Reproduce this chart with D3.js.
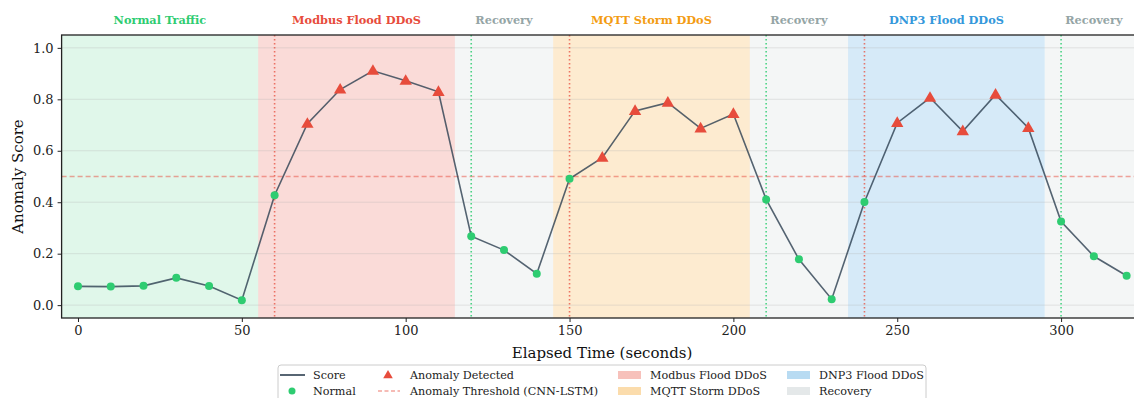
<!DOCTYPE html>
<html>
<head>
<meta charset="utf-8">
<script src="https://cdn.jsdelivr.net/npm/d3@7"></script>
<style>
  body { margin: 0; background: #fff; }
  text { font-family: "DejaVu Serif", serif; }
</style>
</head>
<body>
<div id="chart"></div>
<script>
// sample times (s) and anomaly scores
const times = [0, 10, 20, 30, 40, 50, 60, 70, 80, 90, 100, 110, 120, 130, 140, 150, 160,
  170, 180, 190, 200, 210, 220, 230, 240, 250, 260, 270, 280, 290, 300, 310, 320];
const scores = [0.073, 0.072, 0.075, 0.106, 0.074, 0.019, 0.427, 0.705, 0.838, 0.911, 0.872,
  0.829, 0.268, 0.214, 0.122, 0.491, 0.573, 0.755, 0.787, 0.687, 0.743, 0.411, 0.178, 0.023,
  0.401, 0.708, 0.806, 0.676, 0.818, 0.689, 0.325, 0.190, 0.114];
const threshold = 0.5;

const phaseNames = ["Normal Traffic", "Modbus Flood DDoS", "Recovery", "MQTT Storm DDoS",
  "Recovery", "DNP3 Flood DDoS", "Recovery"];
const phaseStart = [-5, 55, 115, 145, 205, 235, 295];
const phaseEnd = [55, 115, 145, 205, 235, 295, 325];
const phaseColor = ["#2ecc71", "#e74c3c", "#95a5a6", "#f39c12", "#95a5a6", "#3498db", "#95a5a6"];
const phaseAlpha = [0.15, 0.2, 0.1, 0.2, 0.1, 0.2, 0.1];

const attackLines = [60, 150, 240];
const recoveryLines = [120, 210, 300];

const xTicks = [0, 50, 100, 150, 200, 250, 300];
const yTicks = [0.0, 0.2, 0.4, 0.6, 0.8, 1.0];

const W = 1134, H = 398;
const plotL = 61.6, plotT = 35, plotB = 318;
const plotR = plotL + 330 * 3.277;

const svg = d3.select("#chart").append("svg").attr("width", W).attr("height", H);

const x = d3.scaleLinear().domain([-5, 325]).range([plotL, plotR]);
const y = d3.scaleLinear().domain([-0.05, 1.05]).range([plotB, plotT]);

// background phases
for (let i = 0; i < phaseNames.length; i++) {
  svg.append("rect")
    .attr("x", x(phaseStart[i]))
    .attr("y", plotT)
    .attr("width", x(phaseEnd[i]) - x(phaseStart[i]))
    .attr("height", plotB - plotT)
    .attr("fill", phaseColor[i])
    .attr("fill-opacity", phaseAlpha[i]);
  svg.append("text")
    .attr("x", x((phaseStart[i] + phaseEnd[i]) / 2))
    .attr("y", 24)
    .attr("text-anchor", "middle")
    .attr("font-size", 11.3)
    .attr("font-weight", "bold")
    .attr("fill", phaseColor[i])
    .text(phaseNames[i]);
}

// grid
svg.append("g").selectAll("line").data(yTicks).join("line")
  .attr("x1", plotL).attr("x2", plotR)
  .attr("y1", (d) => y(d)).attr("y2", (d) => y(d))
  .attr("stroke", "#b0b0b0").attr("stroke-opacity", 0.3).attr("stroke-width", 1);

// threshold
svg.append("line")
  .attr("x1", plotL).attr("x2", plotR)
  .attr("y1", y(threshold)).attr("y2", y(threshold))
  .attr("stroke", "#e74c3c").attr("stroke-opacity", 0.5)
  .attr("stroke-width", 1.3).attr("stroke-dasharray", "5,3");

// attack / recovery markers
attackLines.forEach((t) => {
  svg.append("line").attr("x1", x(t)).attr("x2", x(t)).attr("y1", plotT).attr("y2", plotB)
    .attr("stroke", "#e74c3c").attr("stroke-opacity", 0.75)
    .attr("stroke-width", 1.6).attr("stroke-dasharray", "1.6,2.4");
});
recoveryLines.forEach((t) => {
  svg.append("line").attr("x1", x(t)).attr("x2", x(t)).attr("y1", plotT).attr("y2", plotB)
    .attr("stroke", "#2ecc71").attr("stroke-opacity", 0.85)
    .attr("stroke-width", 1.6).attr("stroke-dasharray", "1.6,2.4");
});

// score line
const pts = times.map((t, i) => [t, scores[i]]);
svg.append("path")
  .datum(pts)
  .attr("fill", "none")
  .attr("stroke", "#2c3e50").attr("stroke-opacity", 0.8)
  .attr("stroke-width", 1.6)
  .attr("d", d3.line().x((d) => x(d[0])).y((d) => y(d[1])));

const tri = d3.symbol().type(d3.symbolTriangle).size(66);
pts.forEach((d) => {
  if (d[1] > threshold) {
    svg.append("path").attr("d", tri)
      .attr("transform", "translate(" + x(d[0]) + "," + (y(d[1]) + 0.5) + ")")
      .attr("fill", "#e74c3c");
  } else {
    svg.append("circle").attr("cx", x(d[0])).attr("cy", y(d[1])).attr("r", 4)
      .attr("fill", "#2ecc71");
  }
});

// axes
const xAxis = svg.append("g").attr("transform", "translate(0," + plotB + ")")
  .call(d3.axisBottom(x).tickValues(xTicks).tickSize(4).tickPadding(4));
const yAxis = svg.append("g").attr("transform", "translate(" + plotL + ",0)")
  .call(d3.axisLeft(y).tickValues(yTicks).tickFormat(d3.format(".1f")).tickSize(4).tickPadding(4));
[xAxis, yAxis].forEach((g) => {
  g.select(".domain").remove();
  g.selectAll("text").attr("font-family", "DejaVu Serif").attr("font-size", 13).attr("fill", "#222");
  g.selectAll("line").attr("stroke", "#222").attr("stroke-width", 1);
});

// spines
svg.append("rect")
  .attr("x", plotL).attr("y", plotT)
  .attr("width", plotR - plotL).attr("height", plotB - plotT)
  .attr("fill", "none").attr("stroke", "#222").attr("stroke-width", 1.3);

svg.append("text")
  .attr("x", 602).attr("y", 358)
  .attr("text-anchor", "middle").attr("font-size", 15).attr("fill", "#111")
  .text("Elapsed Time (seconds)");
svg.append("text")
  .attr("transform", "translate(23," + (plotT + plotB) / 2 + ") rotate(-90)")
  .attr("text-anchor", "middle").attr("font-size", 15).attr("fill", "#111")
  .text("Anomaly Score");

// legend
const leg = svg.append("g");
leg.append("rect").attr("x", 278).attr("y", 365).attr("width", 648).attr("height", 44)
  .attr("rx", 3).attr("fill", "#fff").attr("fill-opacity", 0.8)
  .attr("stroke", "#cccccc").attr("stroke-width", 1);

const row1 = 375, row2 = 391;
const legFont = 11.2;
function legText(tx, ty, label) {
  leg.append("text").attr("x", tx).attr("y", ty).attr("dy", "0.35em")
    .attr("font-size", legFont).attr("fill", "#222").text(label);
}
leg.append("line").attr("x1", 280).attr("x2", 305).attr("y1", row1).attr("y2", row1)
  .attr("stroke", "#2c3e50").attr("stroke-width", 1.6);
legText(313, row1, "Score");
leg.append("circle").attr("cx", 292).attr("cy", row2).attr("r", 3.5).attr("fill", "#2ecc71");
legText(313, row2, "Normal");
leg.append("path").attr("d", d3.symbol().type(d3.symbolTriangle).size(40))
  .attr("transform", "translate(388," + (row1 + 0.5) + ")").attr("fill", "#e74c3c");
legText(410, row1, "Anomaly Detected");
leg.append("line").attr("x1", 378).attr("x2", 400).attr("y1", row2).attr("y2", row2)
  .attr("stroke", "#e74c3c").attr("stroke-opacity", 0.5).attr("stroke-width", 1.3)
  .attr("stroke-dasharray", "4,2.5");
legText(410, row2, "Anomaly Threshold (CNN-LSTM)");

const patchX = [618, 618, 787, 787];
const patchY = [row1, row2, row1, row2];
const patchIdx = [1, 3, 5, 6];
const patchLabel = ["Modbus Flood DDoS", "MQTT Storm DDoS", "DNP3 Flood DDoS", "Recovery"];
for (let i = 0; i < 4; i++) {
  leg.append("rect").attr("x", patchX[i]).attr("y", patchY[i] - 4).attr("width", 23).attr("height", 8)
    .attr("fill", phaseColor[patchIdx[i]]).attr("fill-opacity", patchIdx[i] == 6 ? 0.25 : 0.35);
  legText(patchX[i] + 32, patchY[i], patchLabel[i]);
}
</script>
</body>
</html>
